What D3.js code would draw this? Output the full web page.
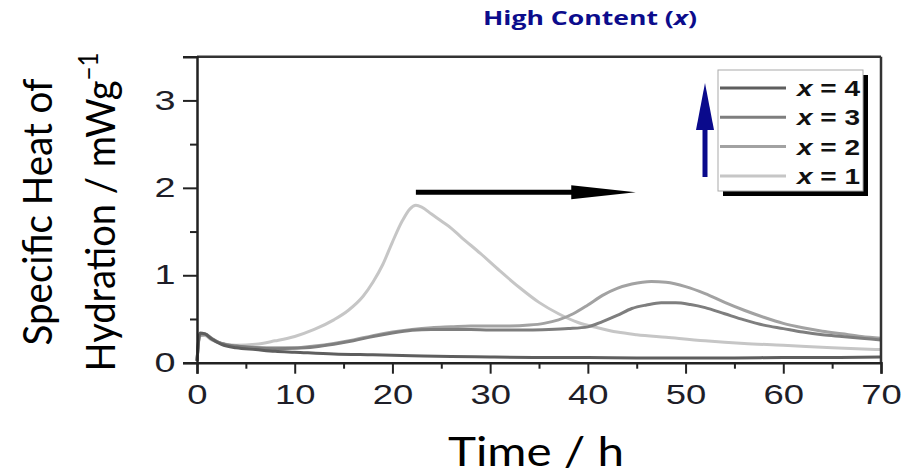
<!DOCTYPE html>
<meta charset="utf-8">
<head>
<title>Specific heat of hydration, high content</title>
<style>
body { margin: 0; background: #fff; }
.tick-label { font-family: "Liberation Sans", Arial, sans-serif; fill: #1e1e28; }
.axis-title { font-family: Lato, "Open Sans", sans-serif; fill: #000; }
.legend-label { font-family: "Liberation Sans", Arial, sans-serif; font-weight: bold; fill: #111; }
</style>
</head>
<body>
<script src="https://cdn.jsdelivr.net/npm/d3@7"></script>
<div id="chart"></div>
<script>

// data: time (h) and specific heat (mW/g) per content x
var timeX1 = [0, 0.3, 0.8, 1.5, 2.5, 4, 6, 8, 10, 12, 14, 15.5, 17, 18, 19, 20, 21, 21.8, 22.4, 23, 24, 25, 26, 27, 29, 31, 33, 35, 37, 39, 41, 43, 45, 48, 52, 56, 60, 65, 70];
var heatX1 = [0.02, 0.31, 0.31, 0.26, 0.22, 0.2, 0.21, 0.25, 0.3, 0.38, 0.49, 0.6, 0.76, 0.92, 1.12, 1.38, 1.62, 1.76, 1.8, 1.78, 1.7, 1.62, 1.54, 1.44, 1.25, 1.05, 0.86, 0.69, 0.56, 0.46, 0.4, 0.35, 0.32, 0.29, 0.25, 0.22, 0.2, 0.17, 0.15];

var timeX2 = [0, 0.3, 0.8, 1.5, 2.5, 4, 6, 8, 10, 12, 14, 16, 18, 20, 22, 24, 26, 28, 30, 32, 34, 35.5, 37, 38.5, 40, 41.5, 43, 44.5, 46.5, 48, 50, 52, 54, 56, 58, 60, 62, 64, 66, 68, 70];
var heatX2 = [0.02, 0.31, 0.32, 0.27, 0.22, 0.19, 0.175, 0.17, 0.17, 0.19, 0.22, 0.26, 0.31, 0.35, 0.38, 0.4, 0.41, 0.42, 0.42, 0.42, 0.43, 0.45, 0.49, 0.56, 0.66, 0.77, 0.85, 0.9, 0.93, 0.92, 0.87, 0.79, 0.69, 0.6, 0.52, 0.45, 0.4, 0.36, 0.33, 0.3, 0.28];

var timeX3 = [0, 0.3, 0.8, 1.5, 2.5, 4, 6, 8, 10, 12, 14, 16, 18, 20, 22, 24, 26, 28, 30, 32, 34, 36, 38, 40, 41.5, 43, 44.5, 46, 47.5, 49, 50.5, 52, 54, 56, 58, 60, 62, 64, 66, 68, 70];
var heatX3 = [0.02, 0.33, 0.33, 0.28, 0.22, 0.19, 0.17, 0.16, 0.165, 0.18, 0.21, 0.25, 0.3, 0.34, 0.37, 0.38, 0.38, 0.38, 0.375, 0.375, 0.375, 0.38, 0.39, 0.41, 0.47, 0.54, 0.62, 0.66, 0.685, 0.685, 0.665, 0.63, 0.56, 0.49, 0.43, 0.39, 0.35, 0.32, 0.3, 0.28, 0.26];

var timeX4 = [0, 0.3, 0.8, 1.5, 2.5, 4, 6, 8, 10, 14, 18, 22, 26, 30, 35, 40, 45, 50, 55, 60, 65, 70];
var heatX4 = [0.02, 0.34, 0.33, 0.27, 0.21, 0.17, 0.15, 0.13, 0.12, 0.1, 0.09, 0.08, 0.07, 0.065, 0.06, 0.06, 0.055, 0.055, 0.055, 0.06, 0.06, 0.065];

var seriesNames = ["x = 1", "x = 2", "x = 3", "x = 4"];
var seriesColors = ["#c6c6c6", "#a2a2a2", "#7e7e7e", "#5e5e5e"];

var xTicks = [0, 10, 20, 30, 40, 50, 60, 70];
var xMinorTicks = [5, 15, 25, 35, 45, 55, 65];
var yTicks = [0, 1, 2, 3];
var yMinorTicks = [0.5, 1.5, 2.5];

var width = 904,
    height = 474;

var svg = d3.select("#chart").append("svg")
    .attr("width", width)
    .attr("height", height);

var x = d3.scaleLinear().domain([0, 70]).range([197, 881]);
var y = d3.scaleLinear().domain([0, 3.5]).range([362.7, 56.7]);

var series = [
  {name: seriesNames[0], color: seriesColors[0], t: timeX1, v: heatX1},
  {name: seriesNames[1], color: seriesColors[1], t: timeX2, v: heatX2},
  {name: seriesNames[2], color: seriesColors[2], t: timeX3, v: heatX3},
  {name: seriesNames[3], color: seriesColors[3], t: timeX4, v: heatX4}
];

var line = d3.line()
    .x(function (d) { return x(d[0]); })
    .y(function (d) { return y(d[1]); })
    .curve(d3.curveMonotoneX);

svg.append("g").selectAll("path")
    .data(series)
    .enter().append("path")
    .attr("d", function (s) { return line(s.t.map(function (t, i) { return [t, s.v[i]]; })); })
    .attr("fill", "none")
    .attr("stroke", function (s) { return s.color; })
    .attr("stroke-width", 3)
    .attr("stroke-linejoin", "round");

// frame: top and right
svg.append("line").attr("x1", x(0)).attr("x2", x(70)).attr("y1", y(3.5)).attr("y2", y(3.5))
    .attr("stroke", "#333").attr("stroke-width", 2.5);
svg.append("line").attr("x1", x(70)).attr("x2", x(70)).attr("y1", y(3.5)).attr("y2", y(0))
    .attr("stroke", "#333").attr("stroke-width", 2.5);

// x axis
var xAxis = svg.append("g").attr("transform", "translate(0," + y(0) + ")")
    .call(d3.axisBottom(x).tickValues(xTicks).tickFormat(d3.format("d")).tickSize(11).tickPadding(11));
svg.append("g").attr("transform", "translate(0," + y(0) + ")")
    .call(d3.axisBottom(x).tickValues(xMinorTicks).tickFormat("").tickSize(6))
    .call(function (g) { g.select(".domain").remove(); });

// y axis
var yAxis = svg.append("g").attr("transform", "translate(" + x(0) + ",0)")
    .call(d3.axisLeft(y).tickValues(yTicks).tickFormat(d3.format("d")).tickSize(14));
svg.append("g").attr("transform", "translate(" + x(0) + ",0)")
    .call(d3.axisLeft(y).tickValues(yMinorTicks).tickFormat("").tickSize(7))
    .call(function (g) { g.select(".domain").remove(); });

svg.selectAll(".domain").attr("stroke", "#222").attr("stroke-width", 2.5);
svg.selectAll(".tick line").attr("stroke", "#222").attr("stroke-width", 2);

xAxis.selectAll("text")
    .attr("class", "tick-label")
    .style("font-size", "27px")
    .attr("transform", "scale(1.35,1)");

yAxis.selectAll("text")
    .attr("class", "tick-label")
    .style("font-size", "27px")
    .attr("text-anchor", "middle")
    .attr("x", 0)
    .attr("transform", "translate(-32,0) scale(1.4,1)");

svg.selectAll(".tick text").attr("fill", null);

// axis titles
svg.append("text")
    .attr("class", "axis-title")
    .attr("x", 536).attr("y", 466)
    .attr("text-anchor", "middle")
    .attr("textLength", 176).attr("lengthAdjust", "spacingAndGlyphs")
    .style("font-size", "41px")
    .text("Time / h");

svg.append("text")
    .attr("class", "axis-title")
    .attr("transform", "translate(52,212) rotate(-90)")
    .attr("text-anchor", "middle")
    .attr("textLength", 267).attr("lengthAdjust", "spacingAndGlyphs")
    .style("font-size", "41px")
    .text("Specific Heat of");

var yTitle2 = svg.append("text")
    .attr("class", "axis-title")
    .attr("transform", "translate(115,212) rotate(-90)")
    .attr("text-anchor", "middle")
    .attr("textLength", 319).attr("lengthAdjust", "spacingAndGlyphs")
    .style("font-size", "41px");
yTitle2.append("tspan").text("Hydration / mWg");
yTitle2.append("tspan").attr("dy", -17).style("font-size", "26px").text("\u22121");

// top title
var title = svg.append("text")
    .attr("x", 590).attr("y", 25)
    .attr("text-anchor", "middle")
    .attr("textLength", 214).attr("lengthAdjust", "spacingAndGlyphs")
    .style("font-family", "'Open Sans', sans-serif")
    .style("font-weight", "bold")
    .style("font-size", "20px")
    .attr("fill", "#0c0c8c");
title.append("tspan").text("High Content (");
title.append("tspan").style("font-style", "italic").text("x");
title.append("tspan").text(")");

// black arrow: peak shift with content
var arrowY = y(1.95);
svg.append("line")
    .attr("x1", x(22.4)).attr("x2", x(38.5))
    .attr("y1", arrowY).attr("y2", arrowY)
    .attr("stroke", "#000").attr("stroke-width", 5);
svg.append("path")
    .attr("d", "M" + x(38.3) + "," + (arrowY - 7) + "L" + x(44.9) + "," + arrowY + "L" + x(38.3) + "," + (arrowY + 7) + "Z")
    .attr("fill", "#000");

// legend box with shadow
var legend = svg.append("g");
legend.append("rect")
    .attr("x", 723).attr("y", 75).attr("width", 145).attr("height", 121)
    .attr("fill", "#000");
legend.append("rect")
    .attr("x", 718).attr("y", 70).attr("width", 145).attr("height", 121)
    .attr("fill", "#fff").attr("stroke", "#aaa").attr("stroke-width", 1);

var legendOrder = series.slice().reverse();
var row = legend.selectAll(".row")
    .data(legendOrder)
    .enter().append("g")
    .attr("transform", function (d, i) { return "translate(0," + (88 + i * 29.3) + ")"; });
row.append("line")
    .attr("x1", 720).attr("x2", 786)
    .attr("stroke", function (d) { return d.color; })
    .attr("stroke-width", 3);
var lt = row.append("text")
    .attr("class", "legend-label")
    .attr("x", 797).attr("y", 8)
    .attr("textLength", 63).attr("lengthAdjust", "spacingAndGlyphs")
    .style("font-size", "22px");
lt.append("tspan").style("font-style", "italic").text("x");
lt.append("tspan").text(function (d) { return d.name.slice(1); });

// blue arrow beside legend
var bx = 705;
svg.append("line")
    .attr("x1", bx).attr("x2", bx).attr("y1", 177).attr("y2", 125)
    .attr("stroke", "#0a0a8c").attr("stroke-width", 5);
svg.append("path")
    .attr("d", "M" + (bx - 9) + ",130L" + bx + ",83L" + (bx + 9) + ",130Z")
    .attr("fill", "#0a0a8c");

</script>
</body>
